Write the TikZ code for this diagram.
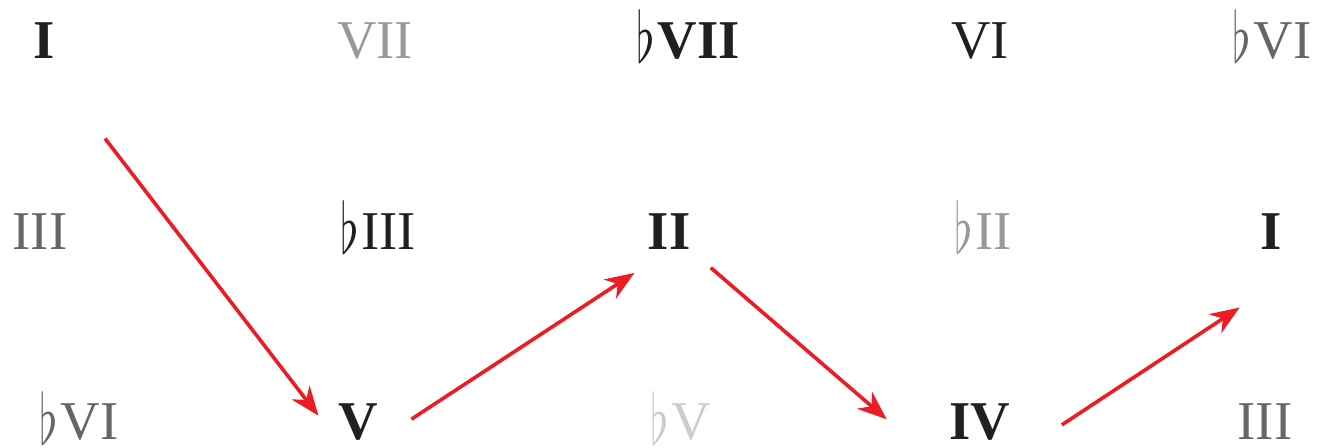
\documentclass[tikz,border=0pt]{standalone}
\usepackage{graphicx}
\usepackage{fontspec}
\setmainfont{Liberation Serif}
\usepackage{tikz}
\usetikzlibrary{arrows.meta}
\definecolor{chordblack}{RGB}{35,31,32}
\definecolor{chordgray}{RGB}{102,102,102}
\definecolor{chordlight}{RGB}{153,153,153}
\definecolor{chordpale}{RGB}{204,204,204}
\definecolor{pathred}{RGB}{237,28,36}
\newcommand{\flatsign}{\raisebox{-3pt}{\scalebox{3.6}[5.3]{\fontsize{10}{12}\selectfont$\flat$}}\kern2pt}

\begin{document}
\begin{tikzpicture}[
  x=0.75pt,y=-0.75pt,
  numeral/.style={anchor=base,inner sep=0pt,font=\fontsize{41}{49}\selectfont,text=chordblack},
  strong/.style={numeral,font=\fontsize{41}{49}\selectfont\bfseries},
  dim/.style={numeral,text=chordgray},
  faint/.style={numeral,text=chordlight},
  ghost/.style={numeral,text=chordpale},
  move/.style={-{Stealth[length=22pt,width=17pt,inset=7pt]},line width=2.7pt,draw=pathred}
]
\useasboundingbox (0,0) rectangle (1327,448);

% Top row.
\node[strong] (I1) at (44,59) {I};
\node[faint] (VII1) at (375,59) {VII};
\node[strong] (bVII1) at (688,59) {\flatsign VII};
\node[numeral] (VI1) at (980,59) {VI};
\node[dim] (bVI1) at (1272,59) {\flatsign VI};

% Middle row.
\node[dim] (III2) at (40,250) {III};
\node[numeral] (bIII2) at (378,250) {\flatsign III};
\node[strong] (II2) at (669,250) {II};
\node[faint] (bII2) at (983,250) {\flatsign II};
\node[strong] (I2) at (1271,250) {I};

% Bottom row.
\node[dim] (bVI3) at (79,440) {\flatsign VI};
\node[strong] (V3) at (358,440) {V};
\node[ghost] (bV3) at (681,440) {\flatsign V};
\node[strong] (IV3) at (980,440) {IV};
\node[dim] (III3) at (1265,440) {III};

% The path I - V - II - IV - I.
\draw[move,shorten <=75pt,shorten >=24pt] (I1.south) -- (V3.south west);
\draw[move,shorten <=30pt,shorten >=31pt] (V3.south east) -- (II2.south);
\draw[move,shorten <=20pt,shorten >=25pt] (II2.south east) -- ([xshift=-28pt]IV3.south west);
\draw[move,shorten <=22pt,shorten >=38pt] ([xshift=20pt]IV3.south east) -- ([yshift=-22pt]I2.south east);
\end{tikzpicture}
\end{document}
